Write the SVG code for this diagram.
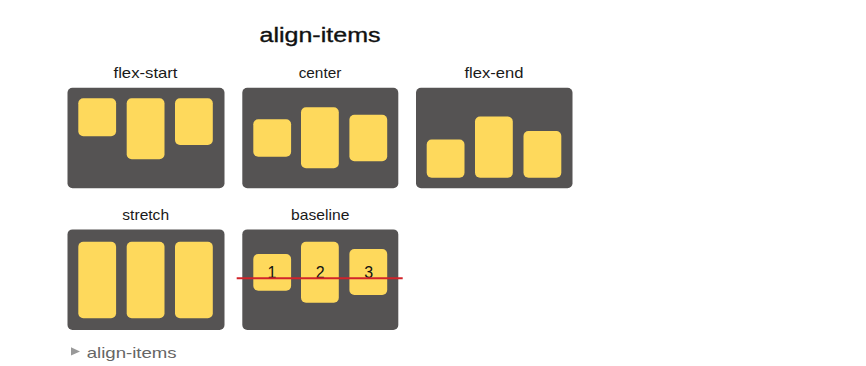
<svg xmlns="http://www.w3.org/2000/svg" width="866" height="366" viewBox="0 0 866 366">
<style>
  .panel { fill: #555353; }
  .item { fill: #FED95C; }
  .lbl { font-family: "Liberation Sans", Arial, sans-serif; font-size: 14.5px; fill: #1a1a1a; text-anchor: middle; }
  .title { font-family: "Liberation Sans", Arial, sans-serif; font-size: 20px; fill: #111; stroke: #111; stroke-width: 0.35px; text-anchor: middle; }
  .num { font-family: "Liberation Sans", Arial, sans-serif; font-size: 16px; fill: #111; text-anchor: middle; }
  .foot { font-family: "Liberation Sans", Arial, sans-serif; font-size: 14.5px; fill: #666666; }
</style>
<rect width="866" height="366" fill="#ffffff"/>
<text class="title" x="320" y="41.5" textLength="121" lengthAdjust="spacingAndGlyphs">align-items</text>

<g id="flex-start">
  <text class="lbl" x="145.5" y="78" textLength="64" lengthAdjust="spacingAndGlyphs">flex-start</text>
  <rect class="panel" x="67.5" y="87.7" width="157" height="100.6" rx="5"/>
  <rect class="item" x="78.3" y="98.3" width="37.8" height="38" rx="5"/>
  <rect class="item" x="126.7" y="98.3" width="37.8" height="61" rx="5"/>
  <rect class="item" x="175" y="98.3" width="37.8" height="46.7" rx="5"/>
</g>

<g id="center">
  <text class="lbl" x="320" y="78" textLength="42.7" lengthAdjust="spacingAndGlyphs">center</text>
  <rect class="panel" x="242.3" y="87.7" width="156" height="100.6" rx="5"/>
  <rect class="item" x="253.3" y="119.2" width="37.8" height="37.6" rx="5"/>
  <rect class="item" x="301" y="107.3" width="37.8" height="61" rx="5"/>
  <rect class="item" x="349.4" y="114.7" width="37.8" height="46.6" rx="5"/>
</g>

<g id="flex-end">
  <text class="lbl" x="494" y="78" textLength="59" lengthAdjust="spacingAndGlyphs">flex-end</text>
  <rect class="panel" x="416" y="87.7" width="156.5" height="100.6" rx="5"/>
  <rect class="item" x="426.7" y="139.5" width="37.8" height="38.2" rx="5"/>
  <rect class="item" x="475" y="116.5" width="37.8" height="61.2" rx="5"/>
  <rect class="item" x="523.5" y="131" width="37.8" height="46.7" rx="5"/>
</g>

<g id="stretch">
  <text class="lbl" x="145.7" y="220" textLength="46.7" lengthAdjust="spacingAndGlyphs">stretch</text>
  <rect class="panel" x="67.5" y="229.4" width="157" height="100.6" rx="5"/>
  <rect class="item" x="78.3" y="241.7" width="37.8" height="76.6" rx="5"/>
  <rect class="item" x="126.7" y="241.7" width="37.8" height="76.6" rx="5"/>
  <rect class="item" x="175" y="241.7" width="37.8" height="76.6" rx="5"/>
</g>

<g id="baseline">
  <text class="lbl" x="320.2" y="220" textLength="58.3" lengthAdjust="spacingAndGlyphs">baseline</text>
  <rect class="panel" x="242.3" y="229.4" width="156" height="100.6" rx="5"/>
  <rect class="item" x="253.3" y="254" width="37.8" height="36.8" rx="5"/>
  <rect class="item" x="301" y="241.7" width="37.8" height="61" rx="5"/>
  <rect class="item" x="349.4" y="249" width="37.8" height="46" rx="5"/>
  <text class="num" x="272" y="277.5">1</text>
  <text class="num" x="320.3" y="277.5">2</text>
  <text class="num" x="368.7" y="277.5">3</text>
  <line x1="236.7" y1="278.3" x2="402.7" y2="278.3" stroke="#d2232a" stroke-width="2"/>
</g>

<g id="caption">
  <polygon points="71,347.2 80,351.4 71,355.6" fill="#999999"/>
  <text class="foot" x="86.7" y="357.7" textLength="90" lengthAdjust="spacingAndGlyphs">align-items</text>
</g>
</svg>
